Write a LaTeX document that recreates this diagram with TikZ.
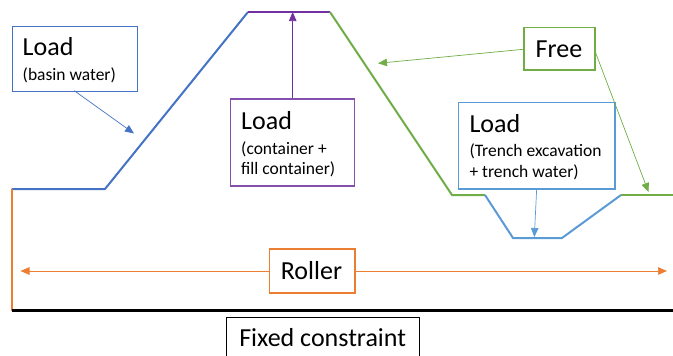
\documentclass[tikz,border=0pt]{standalone}
\usepackage{fontspec}
\setmainfont{Carlito}
\usetikzlibrary{arrows.meta}
\definecolor{cblue}{HTML}{4472C4}
\definecolor{clblue}{HTML}{5B9BD5}
\definecolor{cpurple}{HTML}{7030A0}
\definecolor{cgreen}{HTML}{70AD47}
\definecolor{corange}{HTML}{ED7D31}
\tikzset{
  box/.style={draw=#1, line width=1.3pt, fill=white, inner sep=0pt, anchor=north west},
  prof/.style={line width=2pt, line join=miter},
  conn/.style={line width=0.7pt, -{Triangle[length=9pt,width=7.5pt]}},
  big/.style={font=\fontsize{26}{30}\selectfont, inner sep=0pt, anchor=base west},
  small/.style={font=\fontsize{17.5}{20}\selectfont, inner sep=0pt, anchor=base west},
  mid/.style={font=\fontsize{26}{30}\selectfont, inner sep=0pt, anchor=base},
}
\begin{document}
\begin{tikzpicture}[x=1pt,y=-1pt]
\useasboundingbox (0,0) rectangle (673,356);
\clip (0,0) rectangle (673,356);
% coordinates of the profile
\coordinate (p0) at (11.5,189);
\coordinate (p1) at (105,189);
\coordinate (p2) at (248,12);
\coordinate (p3) at (330,12);
\coordinate (p4) at (452,195);
\coordinate (p5) at (485,195);
\coordinate (p6) at (513,238);
\coordinate (p7) at (562,238);
\coordinate (p8) at (621,195);
\coordinate (p9) at (674,195);
\coordinate (b0) at (11.5,310.5);
\coordinate (b1) at (674,310.5);
% profile
\draw[prof, cblue] (p0) -- (p1) -- (p2);
\draw[prof, cpurple] (p2) -- (p3);
\draw[prof, cgreen] (p3) -- (p4) -- (p5);
\draw[prof, clblue] (p5) -- (p6) -- (p7) -- (p8);
\draw[prof, cgreen] (p8) -- (p9);
\draw[prof, corange] (p0) -- (b0);
\draw[line width=2.5pt, black] (b0) -- (b1);
% boxes
\node[box=cblue, minimum width=125pt, minimum height=65pt] (basin) at (11.7,25.7) {};
\node[big] (basinT) at (22.5,56) {Load};
\node[small] (basinS) at (22.5,80) {(basin water)};

\node[box=cpurple!85!white, minimum width=124pt, minimum height=87pt] (cont) at (230,98.3) {};
\node[big] (contT) at (241,129) {Load};
\node[small] (contS1) at (241,154) {(container +};
\node[small] (contS2) at (241,174) {fill container)};

\node[box=clblue, minimum width=156.6pt, minimum height=86.6pt] (trench) at (457.7,101.7) {};
\node[big] (trenchT) at (469.3,132) {Load};
\node[small] (trenchS1) at (469.3,156.5) {(Trench excavation};
\node[small] (trenchS2) at (469.3,177) {+ trench water)};

\node[box=cgreen, minimum width=71pt, minimum height=42.6pt] (free) at (523.3,26.7) {};
\node[mid] (freeT) at (559,57) {Free};

\node[box=corange, minimum width=85.5pt, minimum height=44pt] (roller) at (268.8,248.3) {};
\node[mid] (rollerT) at (311.5,279) {Roller};

\node[box=black, line width=1.1pt, minimum width=193pt, minimum height=46pt] (fixed) at (226,317.3) {};
\node[mid] (fixedT) at (322.7,346) {Fixed constraint};

% connectors
\coordinate (a1) at (134,133.5);
\draw[conn, cblue] (74.3,90.7) -- (a1);
\coordinate (a2) at (292.7,12);
\draw[conn, cpurple] (cont.north -| a2) -- (a2);
\coordinate (a3) at (378,63.3);
\draw[conn, cgreen] (523.3,49.3) -- (a3);
\coordinate (a4) at (648.5,192);
\draw[conn, cgreen] (594.3,49.3) -- (a4);
\coordinate (a5) at (534.3,237);
\draw[conn, clblue] (536.7,188.3) -- (a5);
\coordinate (r1) at (20.5,271);
\coordinate (r2) at (667,271);
\draw[conn, corange] (roller.west |- r1) -- (r1);
\draw[conn, corange] (roller.east |- r2) -- (r2);
\end{tikzpicture}
\end{document}
